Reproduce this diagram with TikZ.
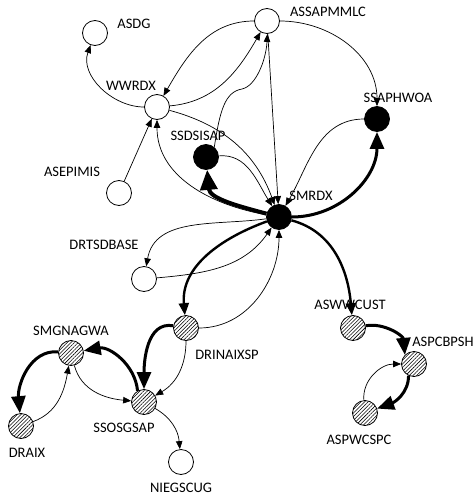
\documentclass[tikz,border=0pt]{standalone}
\usepackage{fontspec}
\setmainfont{Carlito}
\usetikzlibrary{arrows.meta,patterns.meta}
\begin{document}
\begin{tikzpicture}[x=1pt,y=1pt,
  nd/.style={circle,draw,line width=0.8pt,minimum size=25pt,inner sep=0pt},
  wn/.style={nd,fill=white},
  bn/.style={nd,fill=black},
  hn/.style={nd,fill=white,postaction={pattern={Lines[angle=45,distance=2.6pt,line width=0.55pt]}}},
  lb/.style={font=\fontsize{14.5}{16}\selectfont,inner sep=0pt},
  tl/.style={line width=0.7pt,-{Triangle[length=8pt,width=6.5pt]}},
  tk/.style={line width=3pt,-{Triangle[length=17pt,width=14pt]}},
  tm/.style={line width=2.4pt,-{Triangle[length=12pt,width=10pt]}},
]
\useasboundingbox (0,0) rectangle (474,-498);
% nodes
\node[wn] (ASDG) at (95,-33) {};
\node[wn] (ASSAPMMLC) at (267,-21) {};
\node[wn] (WWRDX) at (157,-107) {};
\node[bn] (SSAPHWOA) at (377,-119) {};
\node[bn] (SSDSISAP) at (206,-157) {};
\node[wn] (ASEPIMIS) at (119,-193) {};
\node[bn] (SMRDX) at (279,-217) {};
\node[wn] (DRTSDBASE) at (144,-279) {};
\node[hn] (DRINAIXSP) at (186,-328) {};
\node[hn] (SMGNAGWA) at (71,-353) {};
\node[hn] (SSOSGSAP) at (144,-402) {};
\node[hn] (DRAIX) at (21,-426) {};
\node[wn] (NIEGSCUG) at (181,-462) {};
\node[hn] (ASWWCUST) at (353,-328) {};
\node[hn] (ASPCBPSH) at (414,-364) {};
\node[hn] (ASPWCSPC) at (365,-413) {};
% labels
\node[lb] (ASDG-l) at (134,-24) {ASDG};
\node[lb] (ASSAPMMLC-l) at (328,-12) {ASSAPMMLC};
\node[lb] (WWRDX-l) at (131,-86) {WWRDX};
\node[lb] (SSAPHWOA-l) at (398,-98) {SSAPHWOA};
\node[lb] (SSDSISAP-l) at (198,-136) {SSDSISAP};
\node[lb] (ASEPIMIS-l) at (72,-172) {ASEPIMIS};
\node[lb] (SMRDX-l) at (311,-196) {SMRDX};
\node[lb] (DRTSDBASE-l) at (104,-245) {DRTSDBASE};
\node[lb] (SMGNAGWA-l) at (71,-331) {SMGNAGWA};
\node[lb] (DRINAIXSP-l) at (227,-355) {DRINAIXSP};
\node[lb] (ASWWCUST-l) at (350,-305) {ASWWCUST};
\node[lb] (ASPCBPSH-l) at (443,-342) {ASPCBPSH};
\node[lb] (SSOSGSAP-l) at (124,-428) {SSOSGSAP};
\node[lb] (DRAIX-l) at (27,-453) {DRAIX};
\node[lb] (ASPWCSPC-l) at (359,-440) {ASPWCSPC};
\node[lb] (NIEGSCUG-l) at (181,-488) {NIEGSCUG};
% thin edges
\draw[tl] (WWRDX) to[out=180,in=-110] (ASDG);
\draw[tl] (ASEPIMIS) -- (WWRDX);
\draw[tl] (ASSAPMMLC) to[out=180,in=60] (WWRDX);
\draw[tl] (WWRDX) to[out=5,in=-120] (ASSAPMMLC);
\draw[tl] (SSDSISAP.50) .. controls (220,-110) and (225,-92) .. (242,-89)
   .. controls (256,-86) and (266,-60) .. (ASSAPMMLC.-88);
\draw[tl] (ASSAPMMLC) -- (SMRDX);
\draw[tl] (ASSAPMMLC) to[out=0,in=90] (SSAPHWOA);
\draw[tl] (SSAPHWOA) to[out=180,in=60] (SMRDX);
\draw[tl] (WWRDX) to[out=-15,in=110] (SMRDX);
\draw[tl] (SMRDX) to[out=170,in=-90] (WWRDX);
\draw[tl] (SSDSISAP) to[out=5,in=122] (SMRDX);
\draw[tl] (SMRDX) to[out=188,in=80] (DRTSDBASE);
\draw[tl] (DRTSDBASE) to[out=5,in=-125] (SMRDX);
\draw[tl] (DRINAIXSP) to[out=0,in=-90] (SMRDX);
\draw[tl] (DRINAIXSP) to[out=-90,in=30] (SSOSGSAP);
\draw[tl] (SMGNAGWA) to[out=-75,in=175] (SSOSGSAP);
\draw[tl] (DRAIX) to[out=20,in=-100] (SMGNAGWA);
\draw[tl] (SSOSGSAP) to[out=-30,in=95] (NIEGSCUG);
\draw[tl] (ASPWCSPC) to[out=95,in=180] (ASPCBPSH);
% thick edges
\draw[line width=4pt,-{Triangle[length=20pt,width=17pt]}] (SMRDX) to[out=165,in=-85] (SSDSISAP);
\draw[tk] (SMRDX) to[out=0,in=-90] (SSAPHWOA);
\draw[tm] (SMRDX) to[out=200,in=95] (DRINAIXSP);
\draw[tm] (SMRDX) to[out=-15,in=95] (ASWWCUST);
\draw[tk] (DRINAIXSP) to[out=170,in=90] (SSOSGSAP);
\draw[tk] (SSOSGSAP.120) to[out=95,in=10] (SMGNAGWA);
\draw[tk] (SMGNAGWA) to[out=175,in=95] (DRAIX);
\draw[tk] (ASWWCUST) to[out=10,in=95] (ASPCBPSH.135);
\draw[tk] (ASPCBPSH.-115) to[out=-90,in=20] (ASPWCSPC);
\end{tikzpicture}
\end{document}
